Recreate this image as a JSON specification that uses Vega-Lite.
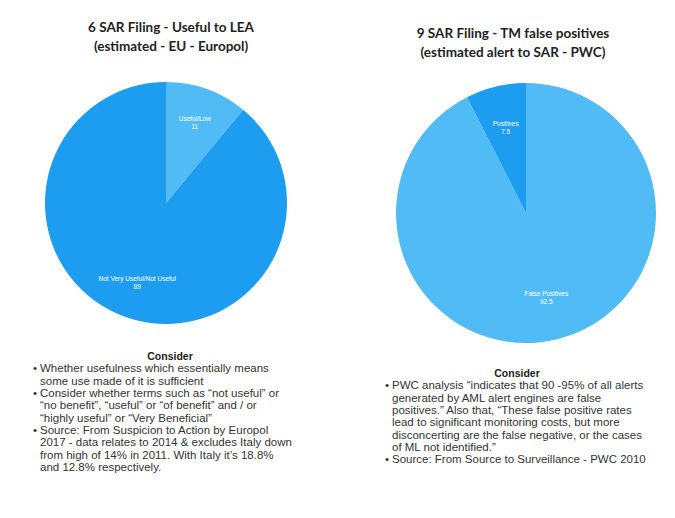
{
  "$schema": "https://vega.github.io/schema/vega-lite/v6.json",
  "background": "white",
  "padding": {"left": 33, "top": 21, "right": 0, "bottom": 0},
  "bounds": "flush",
  "columns": 2,
  "spacing": {"column": 86, "row": 9},
  "config": {"view": {"stroke": null}},
  "datasets": {
    "lea": [
      {"category": "Useful/Low", "value": 11},
      {"category": "Not Very Useful/Not Useful", "value": 89}
    ],
    "tm": [
      {"category": "False Positives", "value": 92.5},
      {"category": "Positives", "value": 7.5}
    ],
    "notesL": [
      {"line": -1, "head": true, "bullet": false, "text": "Consider"},
      {"line": 0, "head": false, "bullet": true, "text": "Whether usefulness which essentially means"},
      {"line": 1, "head": false, "bullet": false, "text": "some use made of it is sufficient"},
      {"line": 2, "head": false, "bullet": true, "text": "Consider whether terms such as “not useful” or"},
      {"line": 3, "head": false, "bullet": false, "text": "“no benefit”, “useful” or “of benefit” and / or"},
      {"line": 4, "head": false, "bullet": false, "text": "“highly useful” or “Very Beneficial”"},
      {"line": 5, "head": false, "bullet": true, "text": "Source: From Suspicion to Action by Europol"},
      {"line": 6, "head": false, "bullet": false, "text": "2017 - data relates to 2014 & excludes Italy down"},
      {"line": 7, "head": false, "bullet": false, "text": "from high of 14% in 2011. With Italy it’s 18.8%"},
      {"line": 8, "head": false, "bullet": false, "text": "and 12.8% respectively."}
    ],
    "notesR": [
      {"line": -1, "head": true, "bullet": false, "text": "Consider"},
      {"line": 0, "head": false, "bullet": true, "text": "PWC analysis “indicates that 90 -95% of all alerts"},
      {"line": 1, "head": false, "bullet": false, "text": "generated by AML alert engines are false"},
      {"line": 2, "head": false, "bullet": false, "text": "positives.” Also that, “These false positive rates"},
      {"line": 3, "head": false, "bullet": false, "text": "lead to significant monitoring costs, but more"},
      {"line": 4, "head": false, "bullet": false, "text": "disconcerting are the false negative, or the cases"},
      {"line": 5, "head": false, "bullet": false, "text": "of ML not identified.”"},
      {"line": 6, "head": false, "bullet": true, "text": "Source: From Source to Surveillance - PWC 2010"}
    ]
  },
  "concat": [
    {
      "width": 266,
      "height": 250,
      "title": {"text": ["6 SAR Filing - Useful to LEA", "(estimated - EU - Europol)"], "font": "Lato", "fontSize": 13.5, "fontWeight": "bold", "color": "#222", "lineHeight": 18.5, "offset": 25, "dx": 5},
      "data": {"name": "lea"},
      "encoding": {
        "theta": {"field": "value", "type": "quantitative", "stack": true},
        "order": {"field": "value", "sort": "ascending"}
      },
      "layer": [
        {
          "mark": {"type": "arc", "outerRadius": 121},
          "encoding": {"color": {"field": "category", "type": "nominal", "legend": null, "scale": {"domain": ["Useful/Low", "Not Very Useful/Not Useful"], "range": ["#51bbf6", "#1c9df0"]}}}
        },
        {
          "mark": {"type": "text", "radius": 85, "dy": -4, "fontSize": 6.5, "font": "Liberation Sans", "color": "white"},
          "encoding": {"text": {"field": "category", "type": "nominal"}}
        },
        {
          "mark": {"type": "text", "radius": 85, "dy": 4, "fontSize": 6.5, "font": "Liberation Sans", "color": "white"},
          "encoding": {"text": {"field": "value", "type": "nominal"}}
        }
      ]
    },
    {
      "width": 282,
      "height": 270,
      "title": {"text": ["9 SAR Filing - TM false positives", "(estimated alert to SAR  - PWC)"], "font": "Lato", "fontSize": 13.5, "fontWeight": "bold", "color": "#222", "lineHeight": 18.5, "offset": 19, "dx": -13},
      "data": {"name": "tm"},
      "encoding": {
        "theta": {"field": "value", "type": "quantitative", "stack": true},
        "order": {"field": "value", "sort": "descending"}
      },
      "layer": [
        {
          "mark": {"type": "arc", "outerRadius": 130},
          "encoding": {"color": {"field": "category", "type": "nominal", "legend": null, "scale": {"domain": ["False Positives", "Positives"], "range": ["#53bdf8", "#1a9bee"]}}}
        },
        {
          "mark": {"type": "text", "radius": 87, "dy": -4, "fontSize": 6.5, "font": "Liberation Sans", "color": "white"},
          "encoding": {"text": {"field": "category", "type": "nominal"}}
        },
        {
          "mark": {"type": "text", "radius": 87, "dy": 4, "fontSize": 6.5, "font": "Liberation Sans", "color": "white"},
          "encoding": {"text": {"field": "value", "type": "nominal"}}
        }
      ]
    },
    {
      "width": 266,
      "height": 111,
      "data": {"name": "notesL"},
      "encoding": {
        "y": {"field": "line", "type": "quantitative", "axis": null, "scale": {"domain": [-1, 8], "reverse": true}}
      },
      "layer": [
        {
          "transform": [{"filter": "datum.head"}],
          "mark": {"type": "text", "align": "center", "baseline": "middle", "dx": 4, "fontSize": 10.5, "fontWeight": "bold", "font": "Liberation Sans", "color": "#222"},
          "encoding": {"x": {"datum": 0.5, "type": "quantitative", "axis": null, "scale": {"domain": [0, 1]}}, "text": {"field": "text", "type": "nominal"}}
        },
        {
          "transform": [{"filter": "datum.bullet"}],
          "mark": {"type": "text", "align": "left", "baseline": "middle", "fontSize": 11.5, "font": "Liberation Sans", "color": "#333"},
          "encoding": {"x": {"datum": 0, "type": "quantitative", "axis": null, "scale": {"domain": [0, 1]}}, "text": {"value": "•"}}
        },
        {
          "transform": [{"filter": "!datum.head"}],
          "mark": {"type": "text", "align": "left", "baseline": "middle", "dx": 7, "fontSize": 11.5, "font": "Liberation Sans", "color": "#333"},
          "encoding": {"x": {"datum": 0, "type": "quantitative", "axis": null, "scale": {"domain": [0, 1]}}, "text": {"field": "text", "type": "nominal"}}
        }
      ]
    },
    {
      "width": 282,
      "height": 103.3,
      "data": {"name": "notesR"},
      "encoding": {
        "y": {"field": "line", "type": "quantitative", "axis": null, "scale": {"domain": [-2.38, 6], "reverse": true}}
      },
      "layer": [
        {
          "transform": [{"filter": "datum.head"}],
          "mark": {"type": "text", "align": "center", "baseline": "middle", "dx": -9, "fontSize": 10.5, "fontWeight": "bold", "font": "Liberation Sans", "color": "#222"},
          "encoding": {"x": {"datum": 0.5, "type": "quantitative", "axis": null, "scale": {"domain": [0, 1]}}, "text": {"field": "text", "type": "nominal"}}
        },
        {
          "transform": [{"filter": "datum.bullet"}],
          "mark": {"type": "text", "align": "left", "baseline": "middle", "fontSize": 11.5, "font": "Liberation Sans", "color": "#333"},
          "encoding": {"x": {"datum": 0, "type": "quantitative", "axis": null, "scale": {"domain": [0, 1]}}, "text": {"value": "•"}}
        },
        {
          "transform": [{"filter": "!datum.head"}],
          "mark": {"type": "text", "align": "left", "baseline": "middle", "dx": 7, "fontSize": 11.5, "font": "Liberation Sans", "color": "#333"},
          "encoding": {"x": {"datum": 0, "type": "quantitative", "axis": null, "scale": {"domain": [0, 1]}}, "text": {"field": "text", "type": "nominal"}}
        }
      ]
    }
  ]
}
